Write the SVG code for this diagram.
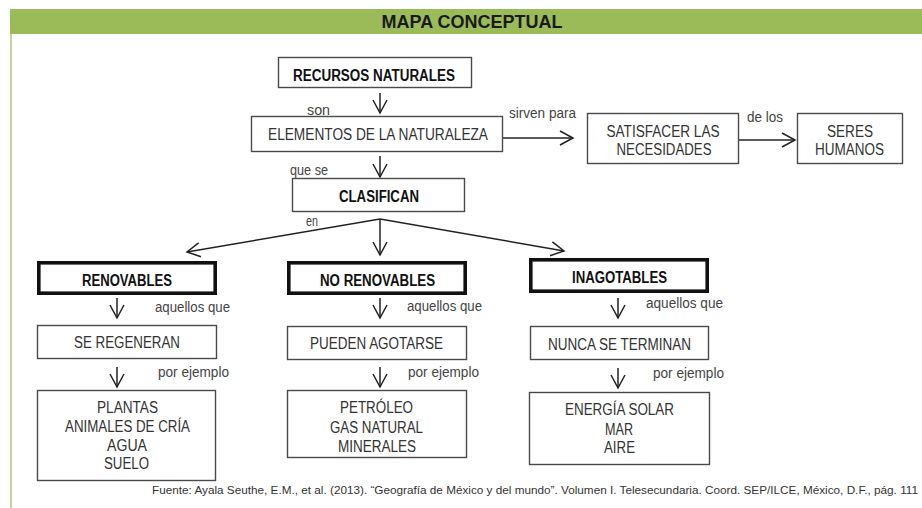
<svg xmlns="http://www.w3.org/2000/svg" width="922" height="508" viewBox="0 0 922 508">
<style>
text{font-family:"Liberation Sans Narrow","Liberation Sans",Arial,sans-serif;}
.box{fill:#fff;stroke:#4a4a4a;stroke-width:1.4;}
.tbox{fill:#fff;stroke:#111;stroke-width:3.6;}
.t{font-size:16px;fill:#333;text-anchor:middle;}
.b{font-size:16px;font-weight:bold;fill:#111;text-anchor:middle;}
.lbl{font-size:14px;fill:#444;}
.con{stroke:#222;stroke-width:1.5;fill:none;marker-end:url(#ah);}
</style>
<defs>
<marker id="ah" markerUnits="userSpaceOnUse" markerWidth="20" markerHeight="20" viewBox="-15 -10 20 20" refX="0" refY="0" orient="auto" overflow="visible">
<path d="M-13,-7 L0,0 L-13,7" fill="none" stroke="#222" stroke-width="1.5"/>
</marker>
</defs>
<rect x="0" y="0" width="922" height="508" fill="#fff"/>
<g id="frame">
<rect x="10" y="9" width="912" height="25" fill="#9bbb59"/>
<rect x="10" y="34" width="2" height="474" fill="#c3d69b"/>
<text x="472" y="28" font-size="18" font-weight="bold" fill="#1a1a1a" text-anchor="middle" textLength="181" lengthAdjust="spacingAndGlyphs">MAPA CONCEPTUAL</text>
</g>
<g id="connectors">
<line class="con" x1="380" y1="93" x2="380" y2="113"/>
<line class="con" x1="380" y1="156" x2="380" y2="177"/>
<line class="con" x1="503" y1="138" x2="573" y2="138"/>
<line class="con" x1="739" y1="140" x2="795" y2="140"/>
<line class="con" x1="380" y1="219" x2="187" y2="252"/>
<line class="con" x1="380" y1="219" x2="380" y2="255"/>
<line class="con" x1="380" y1="219" x2="564" y2="251"/>
<line class="con" x1="117" y1="298" x2="117" y2="318"/>
<line class="con" x1="117" y1="367" x2="117" y2="387"/>
<line class="con" x1="380" y1="298" x2="380" y2="318"/>
<line class="con" x1="380" y1="367" x2="380" y2="387"/>
<line class="con" x1="618" y1="298" x2="618" y2="318"/>
<line class="con" x1="618" y1="368" x2="618" y2="388"/>
<text class="lbl" x="307" y="115" textLength="23" lengthAdjust="spacingAndGlyphs">son</text>
<text class="lbl" x="509" y="118" textLength="67" lengthAdjust="spacingAndGlyphs">sirven para</text>
<text class="lbl" x="747" y="122" textLength="36" lengthAdjust="spacingAndGlyphs">de los</text>
<text class="lbl" x="290" y="175" textLength="38" lengthAdjust="spacingAndGlyphs">que se</text>
<text class="lbl" x="306" y="226" textLength="12" lengthAdjust="spacingAndGlyphs">en</text>
<text class="lbl" x="155" y="312" textLength="75" lengthAdjust="spacingAndGlyphs">aquellos que</text>
<text class="lbl" x="158" y="377" textLength="71" lengthAdjust="spacingAndGlyphs">por ejemplo</text>
<text class="lbl" x="407" y="311" textLength="75" lengthAdjust="spacingAndGlyphs">aquellos que</text>
<text class="lbl" x="408" y="377" textLength="71" lengthAdjust="spacingAndGlyphs">por ejemplo</text>
<text class="lbl" x="646" y="308" textLength="77" lengthAdjust="spacingAndGlyphs">aquellos que</text>
<text class="lbl" x="653" y="378" textLength="71" lengthAdjust="spacingAndGlyphs">por ejemplo</text>
</g>
<g id="recursos">
<rect class="box" x="278.5" y="57.5" width="193" height="30"/>
<text class="b" x="374" y="81" textLength="162" lengthAdjust="spacingAndGlyphs">RECURSOS NATURALES</text>
</g>
<g id="elementos">
<rect class="box" x="251.5" y="116.5" width="251" height="35"/>
<text class="t" x="378" y="140" textLength="220" lengthAdjust="spacingAndGlyphs">ELEMENTOS DE LA NATURALEZA</text>
</g>
<g id="satisfacer">
<rect class="box" x="587.5" y="113.5" width="151" height="50"/>
<text class="t" x="663" y="137" textLength="113" lengthAdjust="spacingAndGlyphs">SATISFACER LAS</text>
<text class="t" x="664" y="155" textLength="95" lengthAdjust="spacingAndGlyphs">NECESIDADES</text>
</g>
<g id="seres">
<rect class="box" x="797.5" y="113.5" width="105" height="50"/>
<text class="t" x="850" y="137" textLength="46" lengthAdjust="spacingAndGlyphs">SERES</text>
<text class="t" x="849.5" y="155" textLength="69" lengthAdjust="spacingAndGlyphs">HUMANOS</text>
</g>
<g id="clasifican">
<rect class="box" x="292.5" y="178.5" width="172" height="33"/>
<text class="b" x="379" y="202" textLength="80" lengthAdjust="spacingAndGlyphs">CLASIFICAN</text>
</g>
<g id="renovables">
<rect class="tbox" x="38.8" y="262.8" width="176.4" height="30.4"/>
<text class="b" x="127" y="286" textLength="90" lengthAdjust="spacingAndGlyphs">RENOVABLES</text>
</g>
<g id="no-renovables">
<rect class="tbox" x="288.8" y="262.8" width="176.4" height="30.4"/>
<text class="b" x="377.5" y="286" textLength="115" lengthAdjust="spacingAndGlyphs">NO RENOVABLES</text>
</g>
<g id="inagotables">
<rect class="tbox" x="530.8" y="259.8" width="176.4" height="31.4"/>
<text class="b" x="619.5" y="283" textLength="95" lengthAdjust="spacingAndGlyphs">INAGOTABLES</text>
</g>
<g id="se-regeneran">
<rect class="box" x="37.5" y="325.5" width="179" height="33"/>
<text class="t" x="127" y="348" textLength="106" lengthAdjust="spacingAndGlyphs">SE REGENERAN</text>
</g>
<g id="pueden-agotarse">
<rect class="box" x="287.5" y="326.5" width="179" height="33"/>
<text class="t" x="376.5" y="349" textLength="133" lengthAdjust="spacingAndGlyphs">PUEDEN AGOTARSE</text>
</g>
<g id="nunca-se-terminan">
<rect class="box" x="530.5" y="326.5" width="178" height="33"/>
<text class="t" x="619.5" y="350" textLength="143" lengthAdjust="spacingAndGlyphs">NUNCA SE TERMINAN</text>
</g>
<g id="ejemplos-renovables">
<rect class="box" x="37.5" y="390.5" width="178" height="90"/>
<text class="t" x="127.5" y="413" textLength="61" lengthAdjust="spacingAndGlyphs">PLANTAS</text>
<text class="t" x="127.5" y="432" textLength="125" lengthAdjust="spacingAndGlyphs">ANIMALES DE CRÍA</text>
<text class="t" x="127" y="451" textLength="40" lengthAdjust="spacingAndGlyphs">AGUA</text>
<text class="t" x="126.5" y="469" textLength="45" lengthAdjust="spacingAndGlyphs">SUELO</text>
</g>
<g id="ejemplos-no-renovables">
<rect class="box" x="287.5" y="390.5" width="179" height="67"/>
<text class="t" x="376.5" y="413" textLength="73" lengthAdjust="spacingAndGlyphs">PETRÓLEO</text>
<text class="t" x="376.5" y="433" textLength="93" lengthAdjust="spacingAndGlyphs">GAS NATURAL</text>
<text class="t" x="377" y="452" textLength="78" lengthAdjust="spacingAndGlyphs">MINERALES</text>
</g>
<g id="ejemplos-inagotables">
<rect class="box" x="529.5" y="392.5" width="180" height="72"/>
<text class="t" x="619.5" y="415" textLength="109" lengthAdjust="spacingAndGlyphs">ENERGÍA SOLAR</text>
<text class="t" x="619" y="435" textLength="28" lengthAdjust="spacingAndGlyphs">MAR</text>
<text class="t" x="619.5" y="453" textLength="31" lengthAdjust="spacingAndGlyphs">AIRE</text>
</g>
<g id="fuente">
<text x="152" y="494" font-size="11" fill="#333" textLength="766" lengthAdjust="spacingAndGlyphs">Fuente: Ayala Seuthe, E.M.,  et al. (2013). “Geografía de México y del mundo”. Volumen I. Telesecundaria. Coord. SEP/ILCE, México, D.F., pág. 111</text>
</g>
</svg>
